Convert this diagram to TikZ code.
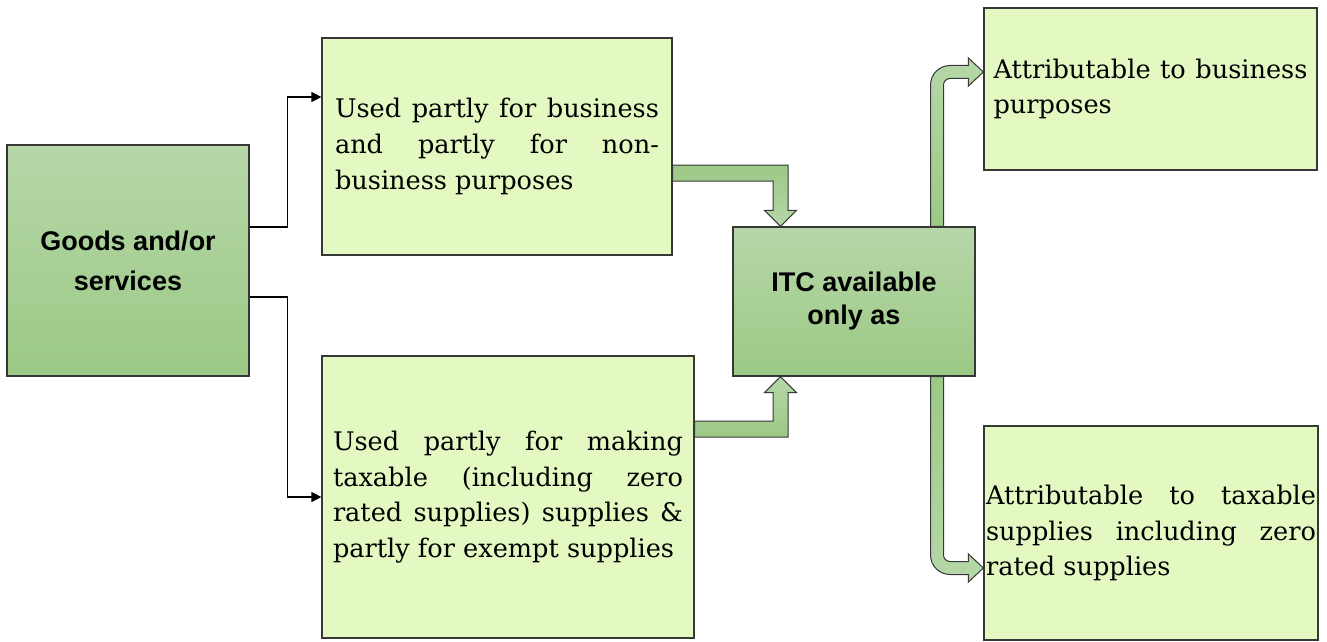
\documentclass[tikz,border=0pt]{standalone}
\usepackage{fontspec}
\usepackage{xcolor}
\usepackage{tikz}
\usetikzlibrary{arrows.meta,calc}
\setmainfont{DejaVu Serif}
\newfontfamily\keyfont{Liberation Sans}
\definecolor{palegreen}{RGB}{227,249,193}
\definecolor{greentop}{RGB}{182,215,168}
\definecolor{greenbottom}{RGB}{156,201,134}
\definecolor{boxline}{RGB}{55,55,55}
\tikzset{
 usebox/.style={
 rectangle,
 draw=boxline,
 fill=palegreen,
 line width=0.6pt,
 align=justify,
 inner ysep=0pt,
 font=\fontsize{12.8}{17.8}\selectfont
 },
 keybox/.style={
 rectangle,
 draw=boxline,
 top color=greentop,
 bottom color=greenbottom,
 line width=0.6pt,
 align=center,
 font=\keyfont\bfseries\fontsize{13.5}{20}\selectfont
 },
 flowline/.style={-{Triangle[length=5pt,width=5pt]}, line width=0.7pt, draw=black},
 blockarrow/.style={draw=boxline, line width=0.5pt, line join=miter}
}

\begin{document}
\begin{tikzpicture}[x=0.5pt,y=-0.5pt]
 \useasboundingbox (0,0) rectangle (1327,642);

 \node[keybox, minimum width=121pt, minimum height=115.5pt] (goods) at (128,260.5) {Goods and/or\\services};
 \node[usebox, text width=162pt, inner xsep=6.5pt, minimum width=175pt, minimum height=108.5pt] (partbiz) at (497,146.5)
 {Used partly for business\linebreak and partly for non-\linebreak business purposes};
 \node[usebox, text width=175pt, inner xsep=5.5pt, minimum width=186pt, minimum height=141pt] (partexempt) at (508,497)
 {Used partly for making\linebreak taxable (including zero\linebreak rated supplies) supplies \&\linebreak partly for exempt supplies};
 \node[keybox, font=\keyfont\bfseries\fontsize{13.5}{16.5}\selectfont, minimum width=121pt, minimum height=74.5pt] (itc) at (854,301.5) {ITC available\\only as};
 \node[usebox, text width=157pt, inner xsep=4.75pt, minimum width=166.5pt, minimum height=81pt] (attrbiz) at (1150.5,89)
 {Attributable to business\linebreak purposes};
 \node[usebox, text width=165pt, inner xsep=1pt, minimum width=167pt, minimum height=107pt] (attrtax) at (1151,533)
 {Attributable to taxable\linebreak supplies including zero\linebreak rated supplies};

 \draw[flowline] ($(goods.east)+(0,-33.5)$) -- ++(38,0) |- ($(partbiz.west)+(0,-49.5)$);
 \draw[flowline] ($(goods.east)+(0,36.5)$) -- ++(38,0) |- (partexempt.west);

 % block arrows into the ITC box
 \draw[blockarrow, top color=greenbottom, bottom color=greentop]
 let \p1=($(partbiz.east)+(0,18.5)$), \p2=($(itc.north)+(-73.5,0)$) in
 (\x1,\y1) -- (\x2+3.75pt,\y1) -- (\x2+3.75pt,\y2+8pt) -- (\x2+8pt,\y2+8pt) -- (\x2,\y2)
 -- (\x2-8pt,\y2+8pt) -- (\x2-3.75pt,\y2+8pt) -- (\x2-3.75pt,\y1-8pt) -- (\x1,\y1-8pt) -- cycle;
 \draw[blockarrow, top color=greentop, bottom color=greenbottom]
 let \p1=($(partexempt.east)+(0,-60)$), \p2=($(itc.south)+(-73.5,0)$) in
 (\x1,\y1) -- (\x2+3.75pt,\y1) -- (\x2+3.75pt,\y2-8pt) -- (\x2+8pt,\y2-8pt) -- (\x2,\y2)
 -- (\x2-8pt,\y2-8pt) -- (\x2-3.75pt,\y2-8pt) -- (\x2-3.75pt,\y1+8pt) -- (\x1,\y1+8pt) -- cycle;

 % block arrows out of the ITC box
 \draw[blockarrow, top color=greentop, bottom color=greenbottom]
 let \p1=($(itc.north)+(83,0)$), \p2=($(attrbiz.west)+(0,-17)$) in
 (\x1-3.25pt,\y1) -- (\x1-3.25pt,\y2-6.5pt) arc[start angle=180,end angle=90,radius=9.75pt]
 -- (\x2-7.5pt,\y2+3.25pt) -- (\x2-7.5pt,\y2+7pt) -- (\x2,\y2) -- (\x2-7.5pt,\y2-7pt)
 -- (\x2-7.5pt,\y2-3.25pt) -- (\x1+6.5pt,\y2-3.25pt) arc[start angle=90,end angle=180,radius=3.25pt]
 -- (\x1+3.25pt,\y1) -- cycle;
 \draw[blockarrow, top color=greenbottom, bottom color=greentop]
 let \p1=($(itc.south)+(83,0)$), \p2=($(attrtax.west)+(0,35)$) in
 (\x1-3.25pt,\y1) -- (\x1-3.25pt,\y2+6.5pt) arc[start angle=180,end angle=270,radius=9.75pt]
 -- (\x2-7.5pt,\y2-3.25pt) -- (\x2-7.5pt,\y2-7pt) -- (\x2,\y2) -- (\x2-7.5pt,\y2+7pt)
 -- (\x2-7.5pt,\y2+3.25pt) -- (\x1+6.5pt,\y2+3.25pt) arc[start angle=270,end angle=180,radius=3.25pt]
 -- (\x1+3.25pt,\y1) -- cycle;
\end{tikzpicture}
\end{document}
